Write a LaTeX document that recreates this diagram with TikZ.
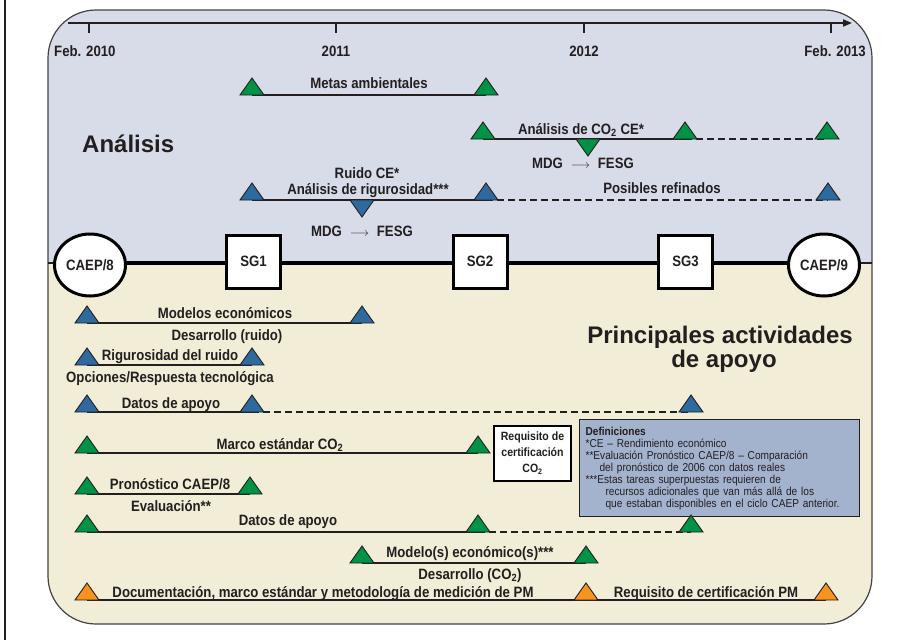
\documentclass[tikz,border=0pt]{standalone}
\usepackage{fontspec}
\setmainfont{Liberation Sans}
\newfontfamily\condfont{Liberation Sans}[FakeStretch=0.88]
\usetikzlibrary{arrows.meta,shapes.geometric}
\definecolor{bgtop}{RGB}{216,220,232}
\definecolor{bgbot}{RGB}{242,237,214}
\definecolor{defbg}{RGB}{163,178,205}
\definecolor{tgreen}{RGB}{0,146,69}
\definecolor{tblue}{RGB}{46,106,158}
\definecolor{torange}{RGB}{247,148,29}
\definecolor{ink}{RGB}{35,31,32}
\begin{document}
\begin{tikzpicture}[x=1pt,y=-1pt,
  lbl/.style={font=\condfont\bfseries\fontsize{15}{17}\selectfont, text=ink, inner sep=0pt, anchor=base},
  ttl/.style={font=\bfseries\fontsize{24}{24}\selectfont, text=ink, inner sep=0pt, anchor=base},
  conn/.style={draw=ink, line width=1.5pt},
  dconn/.style={conn, dash pattern=on 7pt off 4pt},
  circ/.style={ellipse, draw=black, line width=3pt, fill=white, minimum width=71pt, minimum height=62pt, inner sep=0pt,
    font=\condfont\bfseries\fontsize{15}{17}\selectfont, text=ink},
  sgbox/.style={rectangle, draw=black, line width=3pt, fill=white, minimum width=54pt, minimum height=53pt,
    inner sep=0pt, font=\condfont\bfseries\fontsize{15}{17}\selectfont, text=ink},
  pics/tri/.style={code={\draw[fill=#1, draw=ink, line width=0.9pt, line join=miter] (-12,0) -- (0,-17) -- (12,0) -- cycle;}},
  pics/itri/.style={code={\draw[fill=#1, draw=ink, line width=0.9pt, line join=miter] (-12,0) -- (0,17) -- (12,0) -- cycle;}}]
\useasboundingbox (0,0) rectangle (908,640);
\fill[white] (0,0) rectangle (908,640);
\draw[ink, line width=2pt] (5,0) -- (5,640);
% panel
\begin{scope}
  \clip[rounded corners=48pt] (48,10) rectangle (872,624);
  \fill[bgtop] (48,10) rectangle (872,263);
  \fill[bgbot] (48,263) rectangle (872,624);
\end{scope}
\draw[ink!85, line width=1.2pt, rounded corners=48pt] (48,10) rectangle (872,624);
% timeline
\coordinate (tl0) at (68,23);
\coordinate (tl1) at (852,23);
\draw[ink, line width=1.8pt, -{Triangle[length=9pt,width=7pt]}] (tl0) -- (tl1);
\foreach \x/\n in {89/t0,336/t1,584/t2,831/t3}{
  \coordinate (\n a) at (\x,23); \coordinate (\n b) at (\x,33);
  \draw[ink, line width=2pt] (\n a) -- (\n b);
}
\node[lbl, anchor=base west] (y0) at (54,56) {Feb. 2010};
\node[lbl] (y1) at (336,56) {2011};
\node[lbl] (y2) at (584,56) {2012};
\node[lbl, anchor=base east] (y3) at (866,56) {Feb. 2013};
% section titles
\node[ttl, anchor=base west] (tana) at (82,152) {Análisis};
\node[ttl] (tsup1) at (720,343) {Principales actividades};
\node[ttl] (tsup2) at (724,367) {de apoyo};
% divider milestones
\coordinate (dl) at (48,263);
\coordinate (dr) at (872,263);
\node[circ] (caep8) at (90,265) {CAEP/8};
\node[sgbox] (sg1) at (253.5,261.5) {SG1};
\node[sgbox] (sg2) at (480,261.5) {SG2};
\node[sgbox] (sg3) at (685.5,261.5) {SG3};
\node[circ] (caep9) at (824,265) {CAEP/9};
\draw[ink, line width=1.5pt] (dl) -- (dl -| caep8.west);
\draw[ink, line width=1.5pt] (dr -| caep9.east) -- (dr);
\draw[black, line width=3.5pt] (dl -| caep8.east) -- (dl -| sg1.west);
\draw[black, line width=3.5pt] (dl -| sg1.east) -- (dl -| sg2.west);
\draw[black, line width=3.5pt] (dl -| sg2.east) -- (dl -| sg3.west);
\draw[black, line width=3.5pt] (dl -| sg3.east) -- (dl -| caep9.west);
% ---------- milestone coordinates
\coordinate (a1l) at (252,95);  \coordinate (a1r) at (486,95);
\coordinate (a2l) at (483,139); \coordinate (a2m) at (685,139); \coordinate (a2r) at (827,139); \coordinate (a2d) at (588,139);
\coordinate (a3l) at (252,200); \coordinate (a3m) at (486,200); \coordinate (a3r) at (828,200); \coordinate (a3d) at (362,200);
\coordinate (b1l) at (87,323);  \coordinate (b1r) at (362,323);
\coordinate (b2l) at (87,365);  \coordinate (b2r) at (252,365);
\coordinate (b3l) at (87,412);  \coordinate (b3m) at (252,412); \coordinate (b3r) at (691,412);
\coordinate (b4l) at (87,453);  \coordinate (b4r) at (478,453);
\coordinate (b5l) at (87,494);  \coordinate (b5r) at (250,494);
\coordinate (b6l) at (87,532);  \coordinate (b6m) at (478,532); \coordinate (b6r) at (691,532);
\coordinate (b7l) at (362,563); \coordinate (b7r) at (586,563);
\coordinate (b8l) at (87,600);  \coordinate (b8m) at (586,600); \coordinate (b8r) at (826,600);
% ---------- connectors
\draw[conn] (a1l) -- (a1r);
\draw[conn] (a2l) -- (a2m);
\draw[dconn] (a2m) -- (a2r);
\draw[conn] (a3l) -- (a3m);
\draw[dconn] (a3m) -- (a3r);
\draw[conn] (b1l) -- (b1r);
\draw[conn] (b2l) -- (b2r);
\draw[conn] (b3l) -- (b3m);
\draw[dconn] (b3m) -- (b3r);
\draw[conn] (b4l) -- (b4r);
\draw[conn] (b5l) -- (b5r);
\draw[conn] (b6l) -- (b6m);
\draw[dconn] (b6m) -- (b6r);
\draw[conn] (b7l) -- (b7r);
\draw[conn] (b8l) -- (b8r);
% ---------- definitions and requirement box
\node[draw=ink, line width=1.2pt, fill=defbg, anchor=north west, text width=268pt, inner xsep=6pt, inner ysep=0pt,
  minimum height=97pt, align=left, text=ink, font=\condfont\fontsize{11.5}{12}\selectfont] (defs) at (579,419)
 {{\bfseries Definiciones}\\{}*CE – Rendimiento económico\\{}**Evaluación Pronóstico CAEP/8 – Comparación\\
  \hspace*{14pt}del pronóstico de 2006 con datos reales\\{}***Estas tareas superpuestas requieren de\\
  \hspace*{20pt}recursos adicionales que van más allá de los\\
  \hspace*{20pt}que estaban disponibles en el ciclo CAEP anterior.};
\node[draw=black, line width=2.5pt, fill=white, minimum width=77pt, minimum height=55pt, inner sep=0pt, align=center,
  text=ink, font=\condfont\bfseries\fontsize{12}{16}\selectfont] (req) at (532.5,453.5)
 {Requisito de\\certificación\\CO\textsubscript{2}};
% ---------- triangles
\foreach \c in {a1l,a1r,a2l,a2m,a2r,b4l,b4r,b5l,b5r,b6l,b6m,b6r,b7l,b7r}{\pic at (\c) {tri=tgreen};}
\foreach \c in {a3l,a3m,a3r,b1l,b1r,b2l,b2r,b3l,b3m,b3r}{\pic at (\c) {tri=tblue};}
\foreach \c in {b8l,b8m,b8r}{\pic at (\c) {tri=torange};}
\pic at (a2d) {itri=tgreen};
\pic at (a3d) {itri=tblue};
% ---------- labels
\node[lbl] (l1) at (369,88) {Metas ambientales};
\node[lbl] (l2) at (581,134) {Análisis de CO\textsubscript{2} CE*};
\node[lbl] (l3) at (583,168) {MDG\; {\fontsize{12}{12}\selectfont$\longrightarrow$}\; FESG};
\node[lbl] (l4) at (367,178) {Ruido CE*};
\node[lbl] (l5) at (368,194) {Análisis de rigurosidad***};
\node[lbl] (l6) at (362,236) {MDG\; {\fontsize{12}{12}\selectfont$\longrightarrow$}\; FESG};
\node[lbl] (l7) at (662,193) {Posibles refinados};
\node[lbl] (l8) at (225,318) {Modelos económicos};
\node[lbl] (l9) at (227,340) {Desarrollo (ruido)};
\node[lbl] (l10) at (170,360) {Rigurosidad del ruido};
\node[lbl] (l11) at (170,382) {Opciones/Respuesta tecnológica};
\node[lbl] (l12) at (171,408) {Datos de apoyo};
\node[lbl] (l13) at (280,449) {Marco estándar CO\textsubscript{2}};
\node[lbl] (l14) at (170,489) {Pronóstico CAEP/8};
\node[lbl] (l15) at (171,511) {Evaluación**};
\node[lbl] (l16) at (288,525) {Datos de apoyo};
\node[lbl] (l17) at (470,557) {Modelo(s) económico(s)***};
\node[lbl] (l18) at (470,579) {Desarrollo (CO\textsubscript{2})};
\node[lbl] (l19) at (323,597) {Documentación, marco estándar y metodología de medición de PM};
\node[lbl] (l20) at (706,597) {Requisito de certificación PM};
\end{tikzpicture}
\end{document}
